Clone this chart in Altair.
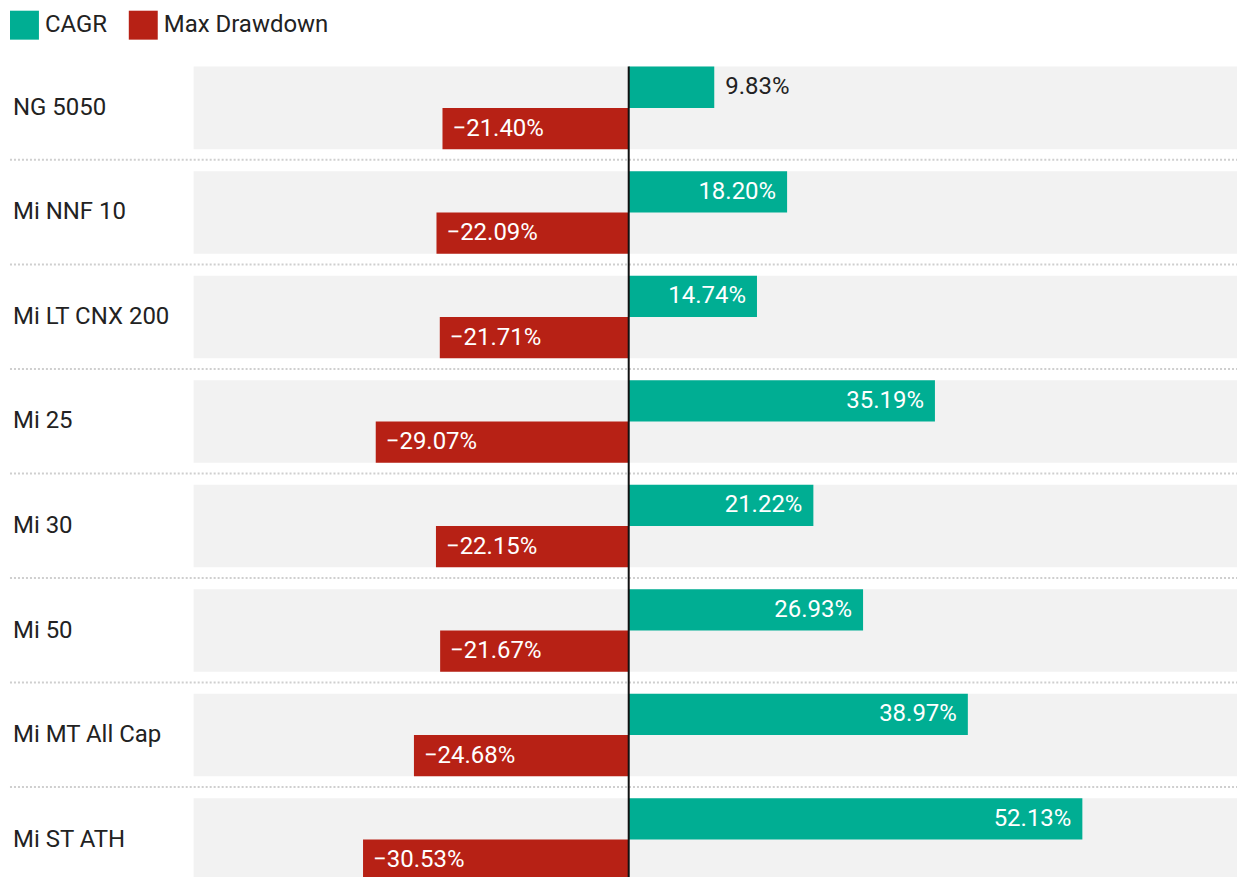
import altair as alt
import pandas as pd

categories = ["NG 5050", "Mi NNF 10", "Mi LT CNX 200", "Mi 25", "Mi 30", "Mi 50", "Mi MT All Cap", "Mi ST ATH"]
cagr = [9.83, 18.20, 14.74, 35.19, 21.22, 26.93, 38.97, 52.13]
drawdown = [-21.40, -22.09, -21.71, -29.07, -22.15, -21.67, -24.68, -30.53]
series_names = ["CAGR", "Max Drawdown"]
series_colors = ["#00AE93", "#B72115"]

rows = []
for c, g, d in zip(categories, cagr, drawdown):
    rows.append({"category": c, "series": "CAGR", "value": g})
    rows.append({"category": c, "series": "Max Drawdown", "value": d})
long_df = pd.DataFrame(rows)
cat_df = pd.DataFrame({"category": categories})

FONT = "Roboto"
FS = 24
W = 1229
H = 837.6
STEP = H / 8
BAND = STEP * 0.79
HALF = BAND / 2

xscale = alt.Scale(domain=[-71.1, 69.9], nice=False, zero=False)
yscale = alt.Scale(paddingInner=0.21, paddingOuter=0.105)
y_enc = alt.Y("category:N", sort=categories, scale=yscale, axis=None)
color_enc = alt.Color("series:N", sort=series_names,
                      scale=alt.Scale(domain=series_names, range=series_colors),
                      legend=alt.Legend(title=None, orient="none", legendX=0, legendY=-45,
                                        direction="horizontal", symbolType="square",
                                        symbolSize=841, symbolStrokeWidth=0,
                                        labelFontSize=FS, labelFont=FONT, labelColor="#222222",
                                        labelOffset=6, columnPadding=21, padding=0,
                                        labelLimit=400, symbolOpacity=1))

bands = alt.Chart(cat_df).mark_bar(color="#F2F2F2").encode(
    x=alt.X("lo:Q", scale=xscale, axis=None), x2="hi:Q", y=y_enc
).transform_calculate(lo="-50", hi="70")

seps = alt.Chart(cat_df).transform_filter(
    alt.datum.category != categories[0]
).mark_rule(color="#CFCFCF", strokeWidth=2, strokeDash=[2, 2], yOffset=-(HALF + 11.3)).encode(
    y=y_enc, x=alt.value(0), x2=alt.value(W)
)

base = alt.Chart(long_df).transform_calculate(
    label="format(datum.value, '.2f') + '%'", zero="0"
)

cagr_bars = base.transform_filter(alt.datum.series == "CAGR").mark_bar(
    size=HALF, yOffset=-HALF / 2
).encode(x=alt.X("value:Q", scale=xscale, axis=None), x2="zero:Q", y=y_enc, color=color_enc)

dd_bars = base.transform_filter(alt.datum.series == "Max Drawdown").mark_bar(
    size=HALF, yOffset=HALF / 2
).encode(x=alt.X("value:Q", scale=xscale, axis=None), x2="zero:Q", y=y_enc, color=color_enc)

zero_line = base.transform_filter(alt.datum.series == "CAGR").transform_aggregate(
    z="min(zero)"
).mark_rule(color="#111111", strokeWidth=2).encode(
    x=alt.X("z:Q", scale=xscale, axis=None), y=alt.value(11), y2=alt.value(H)
)

cagr_in = base.transform_filter(
    (alt.datum.series == "CAGR") & (alt.datum.value >= 12)
).mark_text(align="right", baseline="middle", dx=-11, dy=-HALF / 2, color="white",
            fontSize=FS, font=FONT).encode(
    x=alt.X("value:Q", scale=xscale), y=y_enc, text="label:N"
)
cagr_out = base.transform_filter(
    (alt.datum.series == "CAGR") & (alt.datum.value < 12)
).mark_text(align="left", baseline="middle", dx=11, dy=-HALF / 2, color="#222222",
            fontSize=FS, font=FONT).encode(
    x=alt.X("value:Q", scale=xscale), y=y_enc, text="label:N"
)
dd_txt = base.transform_filter(
    alt.datum.series == "Max Drawdown"
).mark_text(align="left", baseline="middle", dx=10, dy=HALF / 2, color="white",
            fontSize=FS, font=FONT).encode(
    x=alt.X("value:Q", scale=xscale), y=y_enc, text="label:N"
)

row_labels = alt.Chart(cat_df).mark_text(
    align="left", baseline="middle", color="#222222", fontSize=FS, font=FONT
).encode(x=alt.value(3), y=y_enc, text="category:N")

chart = alt.layer(
    bands, seps, cagr_bars, dd_bars, zero_line, cagr_in, cagr_out, dd_txt, row_labels
).properties(
    width=W, height=H,
    padding={"left": 10, "top": 55, "right": 0, "bottom": 0},
    autosize=alt.AutoSizeParams(type="none"),
).configure(font=FONT).configure_view(stroke=None, strokeWidth=0)

chart.save("out.html", embed_options={"renderer": "svg", "actions": False})
